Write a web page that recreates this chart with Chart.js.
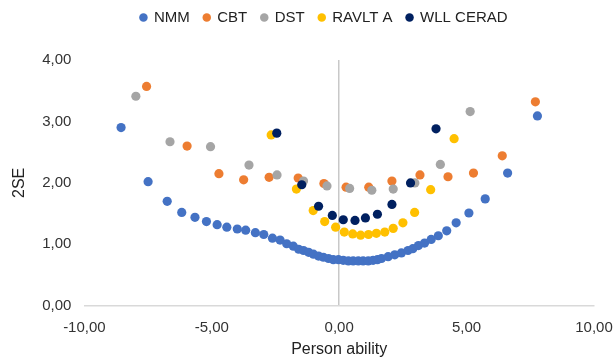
<!DOCTYPE html>
<html>
<head>
<meta charset="utf-8">
<script src="https://cdn.jsdelivr.net/npm/chart.js@4/dist/chart.umd.min.js"></script>
<style>
html,body{margin:0;padding:0;background:#fff;}
#wrap{width:616px;height:359px;}
</style>
</head>
<body>
<div id="wrap"><canvas id="c" width="616" height="359"></canvas></div>
<script>
const seriesNames = ["NMM", "CBT", "DST", "RAVLT A", "WLL CERAD"];
const seriesColors = ["#4472C4", "#ED7D31", "#A5A5A5", "#FFC000", "#002060"];

const nmmX = [-8.56,-7.50,-6.75,-6.18,-5.66,-5.21,-4.79,-4.41,-4.00,-3.67,-3.29,-2.96,-2.62,-2.32,-2.06,-1.80,-1.59,-1.40,-1.20,-1.01,-0.81,-0.62,-0.42,-0.23,-0.03,0.16,0.36,0.55,0.75,0.94,1.14,1.33,1.50,1.66,1.92,2.18,2.44,2.70,2.89,3.11,3.35,3.61,3.89,4.22,4.59,5.09,5.73,6.61,7.78];
const nmmY = [2.90,2.02,1.70,1.52,1.44,1.37,1.32,1.28,1.25,1.23,1.19,1.16,1.10,1.07,1.01,0.97,0.92,0.90,0.87,0.84,0.81,0.79,0.77,0.75,0.75,0.74,0.73,0.73,0.73,0.73,0.73,0.74,0.75,0.77,0.80,0.83,0.86,0.90,0.93,0.98,1.02,1.08,1.14,1.22,1.35,1.51,1.74,2.16,3.09];

const cbtX = [-7.56,-5.97,-4.72,-3.75,-2.75,-1.61,-0.60,0.27,1.16,2.07,3.17,4.27,5.27,6.40,7.70];
const cbtY = [3.57,2.60,2.15,2.05,2.09,2.08,1.99,1.93,1.93,2.03,2.13,2.10,2.16,2.44,3.32];

const dstX = [-7.98,-6.64,-5.05,-3.54,-2.44,-1.40,-0.48,0.41,1.28,2.12,2.97,3.97,5.14];
const dstY = [3.41,2.67,2.59,2.29,2.13,2.03,1.95,1.91,1.88,1.90,2.00,2.30,3.16];

const ravltX = [-2.67,-1.68,-1.02,-0.57,-0.14,0.20,0.53,0.84,1.15,1.46,1.79,2.12,2.50,2.96,3.59,4.51];
const ravltY = [2.78,1.90,1.55,1.37,1.28,1.20,1.17,1.15,1.16,1.18,1.20,1.26,1.35,1.52,1.89,2.72];

const wllX = [-2.45,-1.47,-0.81,-0.27,0.16,0.62,1.03,1.50,2.07,2.80,3.80];
const wllY = [2.81,1.97,1.62,1.47,1.40,1.39,1.43,1.49,1.65,2.00,2.88];

const xTickValues = [-10, -5, 0, 5, 10];
const yTickValues = [0, 1, 2, 3, 4];
const xTitle = "Person ability";
const yTitle = "2SE";

function pts(xs, ys){ return xs.map((x,i)=>({x:x, y:ys[i]})); }
const allX = [nmmX, cbtX, dstX, ravltX, wllX];
const allY = [nmmY, cbtY, dstY, ravltY, wllY];

const datasets = seriesNames.map((n,i)=>({
  label: n,
  data: pts(allX[i], allY[i]),
  backgroundColor: seriesColors[i],
  borderColor: seriesColors[i],
  borderWidth: 0,
  pointRadius: 4.6,
  pointHoverRadius: 4.6,
  showLine: false,
  order: seriesNames.length - i
}));

function fmt(v){ return v.toFixed(2).replace('.', ','); }

Chart.defaults.font.family = "'Liberation Sans', Arial, sans-serif";
Chart.defaults.color = "#404040";

const legendGap = {
  id: 'legendGap',
  beforeInit(chart){
    const origFit = chart.legend.fit;
    chart.legend.fit = function(){
      origFit.call(this);
      this.height += 21;
    };
  },
  afterLayout(chart){
    chart.legend.left += 12;
    chart.legend.right += 12;
    chart.legend.top -= 4;
    chart.legend.bottom -= 4;
  }
};

new Chart(document.getElementById('c'), {
  type: 'scatter',
  data: { datasets: datasets },
  plugins: [legendGap],
  options: {
    responsive: false,
    animation: false,
    devicePixelRatio: 1,
    layout: { padding: { left: 8, right: 0, top: 0, bottom: 0 } },
    plugins: {
      legend: {
        position: 'top',
        labels: {
          usePointStyle: true,
          pointStyle: 'circle',
          boxWidth: 6,
          boxHeight: 6,
          padding: 14,
          font: { size: 15 },
          color: "#222",
          sort: (a,b)=>a.datasetIndex-b.datasetIndex
        }
      },
      tooltip: { enabled: false }
    },
    scales: {
      x: {
        type: 'linear',
        min: -10, max: 10,
        afterBuildTicks: (ax)=>{ ax.ticks = xTickValues.map(v=>({value:v})); },
        afterFit: (s)=>{ s.paddingRight = 22; },
        ticks: { callback: (v)=>fmt(v), font: { size: 15 }, color: "#333", padding: 13, maxRotation: 0 },
        grid: {
          drawTicks: false,
          color: (ctx)=> (ctx.tick && ctx.tick.value === 0) ? '#C8C8C8' : 'rgba(0,0,0,0)',
          lineWidth: 1.5
        },
        border: { display: true, color: '#D9D9D9', width: 1.5 },
        title: { display: true, text: xTitle, font: { size: 16 }, color: "#222", padding: { top: -10, bottom: 0 } }
      },
      y: {
        type: 'linear',
        min: 0, max: 4,
        afterBuildTicks: (ax)=>{ ax.ticks = yTickValues.map(v=>({value:v})); },
        ticks: { callback: (v)=>fmt(v), font: { size: 15 }, color: "#333", padding: 13 },
        grid: { display: false, drawTicks: false },
        border: { display: false },
        title: { display: true, text: yTitle, font: { size: 16 }, color: "#222", padding: { top: 2, bottom: 0 } }
      }
    }
  }
});
</script>
</body>
</html>
